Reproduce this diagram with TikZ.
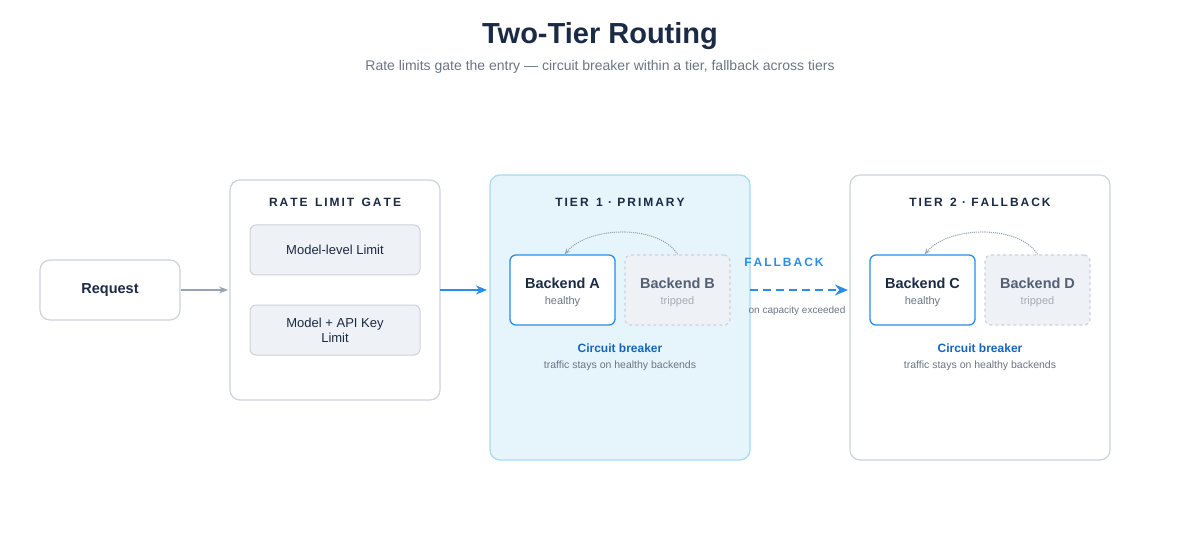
\documentclass[tikz,border=0pt]{standalone}
\usepackage{fontspec}
\setmainfont{Liberation Sans}
\usetikzlibrary{arrows.meta}
\definecolor{navy}{HTML}{1B2A45}
\definecolor{subg}{HTML}{6B7585}
\definecolor{bord}{HTML}{CDD2DB}
\definecolor{boxf}{HTML}{EEF1F5}
\definecolor{blueA}{HTML}{2A8DE8}
\definecolor{tierf}{HTML}{E6F5FC}
\definecolor{tierb}{HTML}{A6DCF2}
\definecolor{cbblue}{HTML}{1565C0}
\definecolor{arrg}{HTML}{9AA3B2}
\begin{document}
\begin{tikzpicture}[x=1pt,y=-1pt,
  panel/.style={draw=bord,line width=1.2pt,rounded corners=10pt,fill=white},
  limitbox/.style={draw=bord,line width=1pt,rounded corners=6pt,fill=boxf,minimum width=170pt,minimum height=50pt,align=center,font=\fontsize{13}{15}\selectfont,text=navy},
  okbox/.style={draw=blueA,line width=1.3pt,rounded corners=6pt,fill=white,minimum width=105pt,minimum height=70pt},
  tripbox/.style={draw=bord,dashed,line width=1.2pt,rounded corners=6pt,fill=boxf,minimum width=105pt,minimum height=70pt},
  hdr/.style={font=\fontsize{12}{14}\selectfont\bfseries,text=navy},
  bname/.style={font=\fontsize{14.5}{16}\selectfont\bfseries,text=navy},
  bsub/.style={font=\fontsize{11}{13}\selectfont,text=subg},
  cb/.style={font=\fontsize{12}{14}\selectfont\bfseries,text=cbblue},
  cbs/.style={font=\fontsize{10.5}{12}\selectfont,text=subg},
  curv/.style={densely dotted,draw=arrg,line width=1.1pt,-{Stealth[length=6pt]}}]
\useasboundingbox (0,0) rectangle (1200,540);
\node[font=\fontsize{29}{34}\selectfont\bfseries,text=navy] (title) at (600,36) {Two-Tier Routing};
\node[font=\fontsize{14}{16}\selectfont,text=subg] (sub) at (600,67) {Rate limits gate the entry — circuit breaker within a tier, fallback across tiers};
% request
\node[panel,minimum width=140pt,minimum height=60pt,font=\fontsize{14.5}{16}\selectfont\bfseries,text=navy] (req) at (110,290) {Request};
% gate
\draw[panel] (230,180) rectangle (440,400);
\coordinate (gateL) at (230,290);
\coordinate (gateR) at (440,290);
\node[hdr] (gh) at (335,202) {R\,A\,T\,E\, \,L\,I\,M\,I\,T\, \,G\,A\,T\,E};
\node[limitbox] (m1) at (335,250) {Model-level Limit};
\node[limitbox] (m2) at (335,330) {Model + API Key\\Limit};
% tier 1
\draw[draw=tierb,line width=1.3pt,rounded corners=10pt,fill=tierf] (490,175) rectangle (750,460);
\coordinate (t1L) at (490,290);
\coordinate (t1R) at (750,290);
\node[hdr] (t1h) at (620,202) {T\,I\,E\,R\, \,1\, ·\, P\,R\,I\,M\,A\,R\,Y};
\node[okbox] (ba) at (562.5,290) {};
\node[bname] (bat) at (562.5,283) {Backend A};
\node[bsub] (bas) at (562.5,302) {healthy};
\node[tripbox] (bb) at (677.5,290) {};
\node[bname,text=navy!75] (bbt) at (677.5,283) {Backend B};
\node[bsub,text=subg!60] (bbs) at (677.5,302) {tripped};
\draw[curv] (bb.north) .. controls (660,225) and (590,225) .. ([xshift=2pt]ba.north);
\node[cb] (cb1) at (620,348) {Circuit breaker};
\node[cbs] (cbs1) at (620,366) {traffic stays on healthy backends};
% tier 2
\draw[panel] (850,175) rectangle (1110,460);
\coordinate (t2L) at (850,290);
\node[hdr] (t2h) at (980,202) {T\,I\,E\,R\, \,2\, ·\, F\,A\,L\,L\,B\,A\,C\,K};
\node[okbox] (bc) at (922.5,290) {};
\node[bname] (bct) at (922.5,283) {Backend C};
\node[bsub] (bcs) at (922.5,302) {healthy};
\node[tripbox] (bd) at (1037.5,290) {};
\node[bname,text=navy!75] (bdt) at (1037.5,283) {Backend D};
\node[bsub,text=subg!60] (bds) at (1037.5,302) {tripped};
\draw[curv] (bd.north) .. controls (1020,225) and (950,225) .. ([xshift=2pt]bc.north);
\node[cb] (cb2) at (980,348) {Circuit breaker};
\node[cbs] (cbs2) at (980,366) {traffic stays on healthy backends};
% arrows
\draw[draw=arrg,line width=1.3pt,-{Stealth[length=9pt,width=7pt]}] (req.east) -- ([xshift=-2pt]gateL);
\draw[draw=blueA,line width=2pt,-{Stealth[length=11pt,width=9pt]}] (gateR) -- ([xshift=-3pt]t1L);
\draw[draw=blueA,line width=2.3pt,dash pattern=on 8pt off 5pt,-{Stealth[length=13pt,width=11pt]}] (t1R) -- ([xshift=-2pt]t2L);
\node[font=\fontsize{12}{14}\selectfont\bfseries,text=blueA] (fb) at (784,262) {F\,A\,L\,L\,B\,A\,C\,K};
\node[font=\fontsize{10}{12}\selectfont,text=subg] (fbs) at (797,311) {on capacity exceeded};
\end{tikzpicture}
\end{document}
